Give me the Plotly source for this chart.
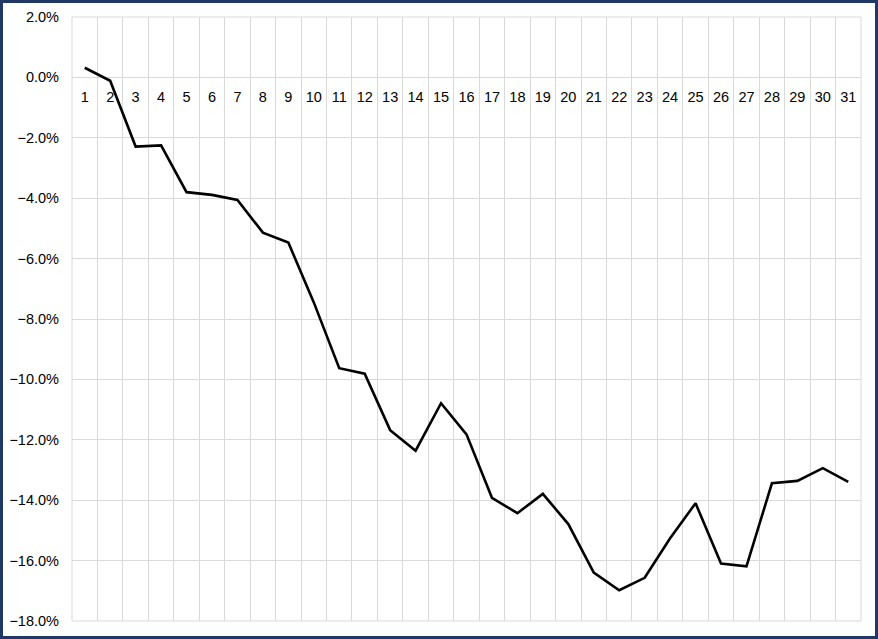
import plotly.graph_objects as go

days = list(range(1, 32))
day_labels = [str(d) for d in days]
returns_pct = [0.32, -0.11, -2.29, -2.25, -3.80, -3.89, -4.06, -5.14, -5.47, -7.45,
               -9.63, -9.81, -11.68, -12.36, -10.79, -11.82, -13.92, -14.43, -13.79, -14.79,
               -16.40, -16.98, -16.57, -15.26, -14.10, -16.10, -16.19, -13.44, -13.36, -12.94,
               -13.39]
y_ticks = [0.02, 0.0, -0.02, -0.04, -0.06, -0.08, -0.10, -0.12, -0.14, -0.16, -0.18]

values = [v / 100 for v in returns_pct]
grid = "#d9d9d9"
font = dict(family="Liberation Sans, Arial, sans-serif", size=14.5, color="#000000")

fig = go.Figure()
fig.add_trace(go.Scatter(x=days, y=values, mode="lines",
                         line=dict(color="#000000", width=2.6), showlegend=False,
                         hoverinfo="skip"))

W, H = 878, 639
ml, mr, mt, mb = 72, 17, 17, 18
pw, ph = W - ml - mr, H - mt - mb

fig.update_layout(
    width=W, height=H,
    margin=dict(l=ml, r=mr, t=mt, b=mb, pad=0),
    paper_bgcolor="white", plot_bgcolor="white",
    font=font,
    xaxis=dict(
        range=[0.5, 31.5], tickmode="array", tickvals=days, ticktext=day_labels,
        showgrid=False, zeroline=False, showline=False, ticks="",
        anchor="free", position=0.9, ticklabelstandoff=9,
        tickfont=font, automargin=False,
        minor=dict(tickvals=[d + 0.5 for d in [0] + days], showgrid=True,
                   gridcolor=grid, gridwidth=1, ticks=""),
        fixedrange=True,
    ),
    yaxis=dict(
        range=[-0.18, 0.02], tickmode="array", tickvals=y_ticks,
        tickformat=".1%", showgrid=True, gridcolor=grid, gridwidth=1,
        zeroline=False, showline=False, ticks="", ticklabelstandoff=12,
        tickfont=font, fixedrange=True, automargin=False,
    ),
    shapes=[
        dict(type="rect", xref="paper", yref="paper", x0=0, x1=1, y0=0, y1=1,
             line=dict(color=grid, width=1), fillcolor="rgba(0,0,0,0)", layer="below"),
        dict(type="rect", xref="paper", yref="paper",
             x0=-(ml - 1.5) / pw, x1=1 + (mr - 1.5) / pw,
             y0=-(mb - 1.5) / ph, y1=1 + (mt - 1.5) / ph,
             line=dict(color="#1f3864", width=3), fillcolor="rgba(0,0,0,0)"),
    ],
)

fig.write_html("out.html", config={"displayModeBar": False},
               post_script="document.body.style.margin='0';document.body.style.padding='0';")
